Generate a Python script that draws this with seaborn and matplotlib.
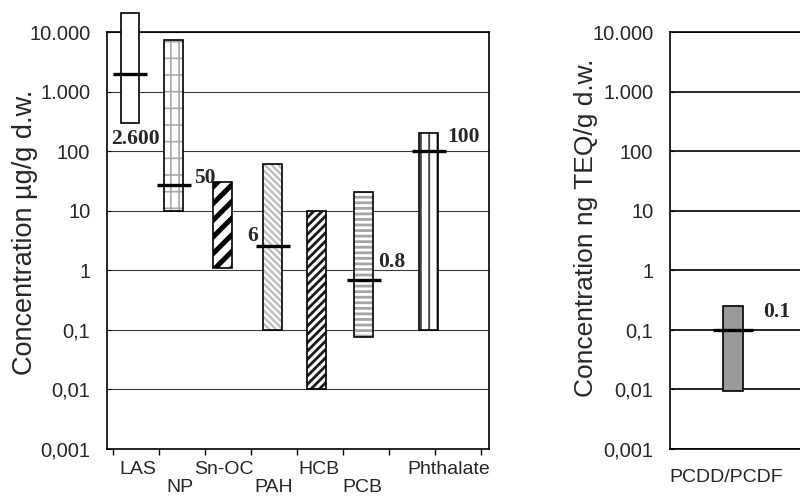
import numpy as np
import matplotlib
matplotlib.use('Agg')
import matplotlib.pyplot as plt
import seaborn as sns

sns.set_style("white")
plt.rcParams['font.family'] = ['Liberation Sans', 'DejaVu Sans']

# datos: rango (min, max), mediana y etiqueta de cada compuesto
compounds = ['LAS', 'NP', 'Sn-OC', 'PAH', 'HCB', 'PCB', 'Phthalate']
conc_low = [300, 10, 1.1, 0.1, 0.01, 0.075, 0.1]
conc_high = [21000, 7400, 30, 60, 10, 21, 200]
median_names = ['LAS', 'NP', 'PAH', 'PCB', 'Phthalate']
median_vals = [2000, 27, 2.6, 0.7, 100]
note_names = ['LAS', 'NP', 'PAH', 'PCB', 'Phthalate']
note_texts = ['2.600', '50', '6', '0.8', '100']

dioxin = ['PCDD/PCDF']
dioxin_low = [0.0095]
dioxin_high = [0.25]
dioxin_median = [0.1]
dioxin_note = ['0.1']

ytick_vals = [0.001, 0.01, 0.1, 1, 10, 100, 1000, 10000]
ytick_labels = ['0,001', '0,01', '0,1', '1', '10', '100', '1.000', '10.000']

# layout (posiciones en unidades de intervalo de tick)
bar_x = [0.37, 1.32, 2.38, 3.47, 4.43, 5.45, 6.86]
bar_w = 0.41
label_x = [0.53, 1.46, 2.41, 3.50, 4.48, 5.42, 7.30]
note_xy = [(-0.03, 160), (1.76, 35), (2.91, 3.8), (5.76, 1.4), (7.26, 170)]
hatches = [None, '||-', '//', '\\\\\\\\\\', '////', '---', '||']
hatch_colors = ['black', '#a8a8a8', 'black', '#bdbdbd', '#1a1a1a', '#a5a5a5', '#444444']
hatch_lws = [1.0, 1.2, 3.6, 1.7, 2.0, 2.0, 1.4]

W, H = 800, 497
fig = plt.figure(figsize=(W / 100, H / 100), dpi=100)
ax = fig.add_axes([107 / W, 48 / H, 382 / W, 417 / H])
ax2 = fig.add_axes([670 / W, 48 / H, 160 / W, 417 / H])

serif = dict(family=['Liberation Serif', 'DejaVu Serif'], fontweight='bold', fontsize=15.5)

# ---------- panel izquierdo ----------
for i, name in enumerate(compounds):
    b = ax.bar(bar_x[i], conc_high[i] - conc_low[i], bottom=conc_low[i], width=bar_w,
               color='white', edgecolor='black', linewidth=1.2, zorder=3, clip_on=False)
    p = b.patches[0]
    if hatches[i]:
        p.set_hatch(hatches[i])
        if hasattr(p, 'set_hatch_linewidth'):
            p.set_hatch_linewidth(hatch_lws[i])
        p._hatch_color = matplotlib.colors.to_rgba(hatch_colors[i])
        p.stale = True

mx = [bar_x[compounds.index(n)] for n in median_names]
sns.scatterplot(x=mx, y=median_vals, marker='_', s=620, color='black',
                linewidth=2.4, ax=ax, zorder=5, legend=False, clip_on=False)

for (tx, ty), t in zip(note_xy, note_texts):
    ax.text(tx, ty, t, ha='left', va='center', zorder=6, **serif)

ax.set_yscale('log')
ax.set_ylim(0.001, 10000)
ax.set_xlim(-0.13, 8.17)
ax.set_yticks(ytick_vals, ytick_labels)
ax.minorticks_off()
ax.yaxis.grid(True, color='#3a3a3a', linewidth=0.8)
ax.set_axisbelow(True)
ax.tick_params(axis='y', which='major', direction='in', length=3, pad=12,
               labelsize=14.5, color='black', left=True)

xt_labels = [c if i % 2 == 0 else '\n' + c for i, c in enumerate(compounds)]
ax.set_xticks(label_x, xt_labels)
ax.set_xticks(np.arange(9), minor=True)
ax.tick_params(axis='x', which='major', length=0, pad=9, labelsize=14)
ax.tick_params(axis='x', which='minor', direction='out', length=4, width=1,
               color='black', bottom=True)
for t in ax.get_xticklabels():
    t.set_linespacing(1.0)
for s in ax.spines.values():
    s.set_color('black')
    s.set_linewidth(1.2)
ax.set_ylabel('Concentration µg/g d.w.', fontsize=19.5, va='center')
ax.yaxis.set_label_coords(-0.215, 0.52)

# ---------- panel derecho ----------
ax2.bar([63], [dioxin_high[0] - dioxin_low[0]], bottom=dioxin_low, width=20,
        color='#999999', edgecolor='black', linewidth=1.2, zorder=3)
sns.scatterplot(x=[63], y=dioxin_median, marker='_', s=830, color='black',
                linewidth=2.4, ax=ax2, zorder=5, legend=False)
ax2.text(93, 0.2, dioxin_note[0], ha='left', va='center', zorder=6, **serif)

ax2.set_yscale('log')
ax2.set_ylim(0.001, 10000)
ax2.set_xlim(0, 160)
ax2.set_yticks(ytick_vals, ytick_labels)
ax2.minorticks_off()
ax2.yaxis.grid(True, color='black', linewidth=1.2)
ax2.set_axisbelow(True)
ax2.tick_params(axis='y', which='major', direction='in', length=3, pad=12,
                labelsize=14.5, color='black', left=True)
ax2.set_xticks([56], dioxin)
ax2.tick_params(axis='x', which='major', length=0, pad=14.5, labelsize=14)
for s in ax2.spines.values():
    s.set_color('black')
    s.set_linewidth(1.2)
ax2.set_ylabel('Concentration ng TEQ/g d.w.', fontsize=19, va='center')
ax2.yaxis.set_label_coords(-0.525, 0.53)

plt.savefig('out.png', dpi=100)
plt.close()
